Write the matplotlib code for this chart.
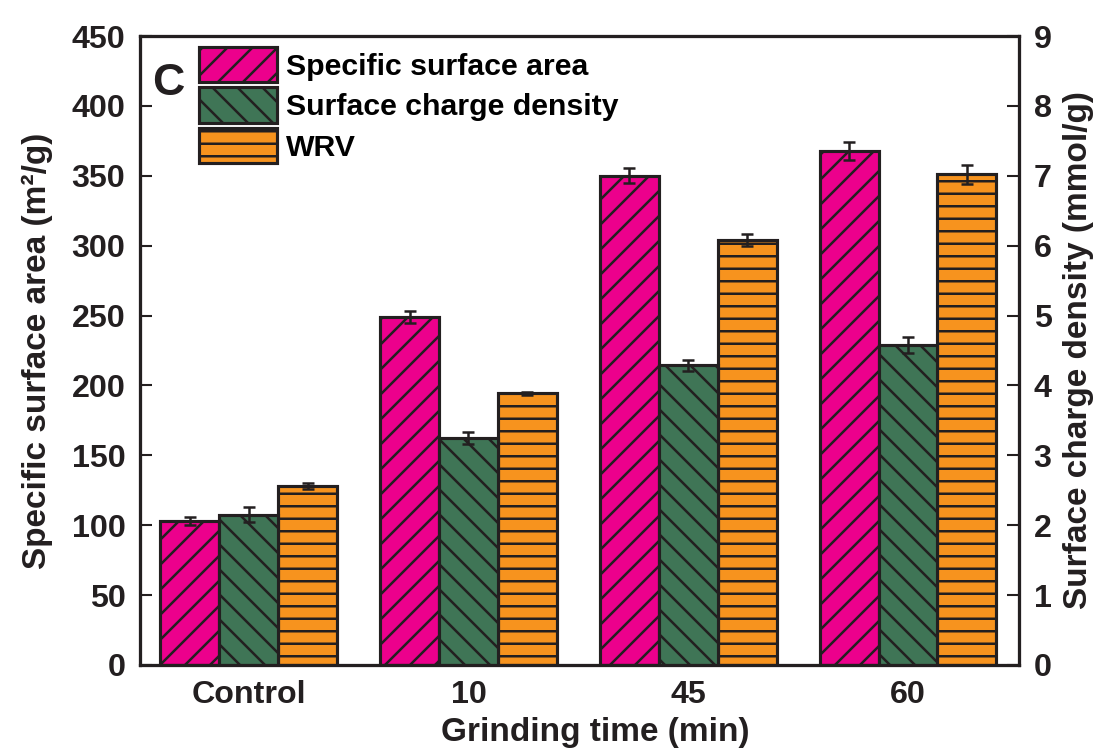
import numpy as np
import matplotlib
matplotlib.use('Agg')
import matplotlib.pyplot as plt

# data
groups = ['Control', '10', '45', '60']
ssa = [103, 249, 350, 368]          # specific surface area, m2/g (left axis)
ssa_err = [3, 4, 5.5, 6.5]
scd = [2.15, 3.25, 4.29, 4.58]      # surface charge density, mmol/g (right axis)
scd_err = [0.11, 0.09, 0.08, 0.11]
wrv = [128, 194.5, 304, 351]        # WRV, on left axis
wrv_err = [2, 1, 4, 7]

pink = '#EC008C'
green = '#3F7556'
orange = '#F7931E'
dark = '#231F20'

plt.rcParams['font.family'] = ['Liberation Sans', 'DejaVu Sans']
plt.rcParams['font.weight'] = 'bold'
plt.rcParams['axes.labelweight'] = 'bold'
plt.rcParams['hatch.linewidth'] = 1.2

fig = plt.figure(figsize=(1102 / 150, 750 / 150), dpi=150)
ax = fig.add_axes([140 / 1102, 85 / 750, 879 / 1102, 629 / 750])
ax2 = ax.twinx()

x = np.arange(len(groups))
w = 0.268
ekw = dict(elinewidth=1.2, capthick=1.2, ecolor=dark)

b1 = ax.bar(x - w, ssa, w, yerr=ssa_err, color=pink, edgecolor=dark, linewidth=1.5,
            hatch='//', capsize=3, error_kw=ekw, label='Specific surface area')
b3 = ax.bar(x + w, wrv, w, yerr=wrv_err, color=orange, edgecolor=dark, linewidth=1.5,
            hatch='--', capsize=3, error_kw=ekw, label='WRV')
b2 = ax2.bar(x, scd, w, yerr=scd_err, color=green, edgecolor=dark, linewidth=1.5,
             hatch='\\\\', capsize=3, error_kw=ekw, label='Surface charge density')

ax.set_xlim(-0.4946, 3.505)
ax.set_ylim(0, 450)
ax2.set_ylim(0, 9)
ax.set_yticks(range(0, 451, 50))
ax2.set_yticks(range(0, 10))
ax.set_xticks(x)
ax.set_xticklabels(groups)

for a in (ax, ax2):
    for s in a.spines.values():
        s.set_linewidth(1.5)
        s.set_color(dark)
    a.tick_params(axis='y', direction='in', length=5.8, width=1.0, color=dark,
                  labelsize=15.5, pad=7, labelcolor=dark)
ax.tick_params(axis='x', length=0, labelsize=15.5, pad=7, labelcolor=dark)

ax.set_ylabel('Specific surface area (m\u00b2/g)', fontsize=16, color=dark)
ax.yaxis.set_label_coords(-0.099, 0.5)
ax2.set_ylabel('Surface charge density (mmol/g)', fontsize=16, color=dark)
ax2.yaxis.set_label_coords(1.050, 0.5)
ax.set_xlabel('Grinding time (min)', fontsize=16, color=dark)
ax.xaxis.set_label_coords(0.5176, -0.083)

ax.text(0.0319, 0.925, 'C', transform=ax.transAxes, fontsize=21.5,
        ha='center', va='center', color=dark)

ax2.legend([b1, b2, b3], ['Specific surface area', 'Surface charge density', 'WRV'],
           loc='upper left', bbox_to_anchor=(0.0671, 0.9825), frameon=False,
           fontsize=14.5, handlelength=2.58, handleheight=1.42, handletextpad=0.3,
           labelspacing=0.17, borderpad=0, borderaxespad=0)

fig.savefig('out.png', dpi=150, facecolor='white')
